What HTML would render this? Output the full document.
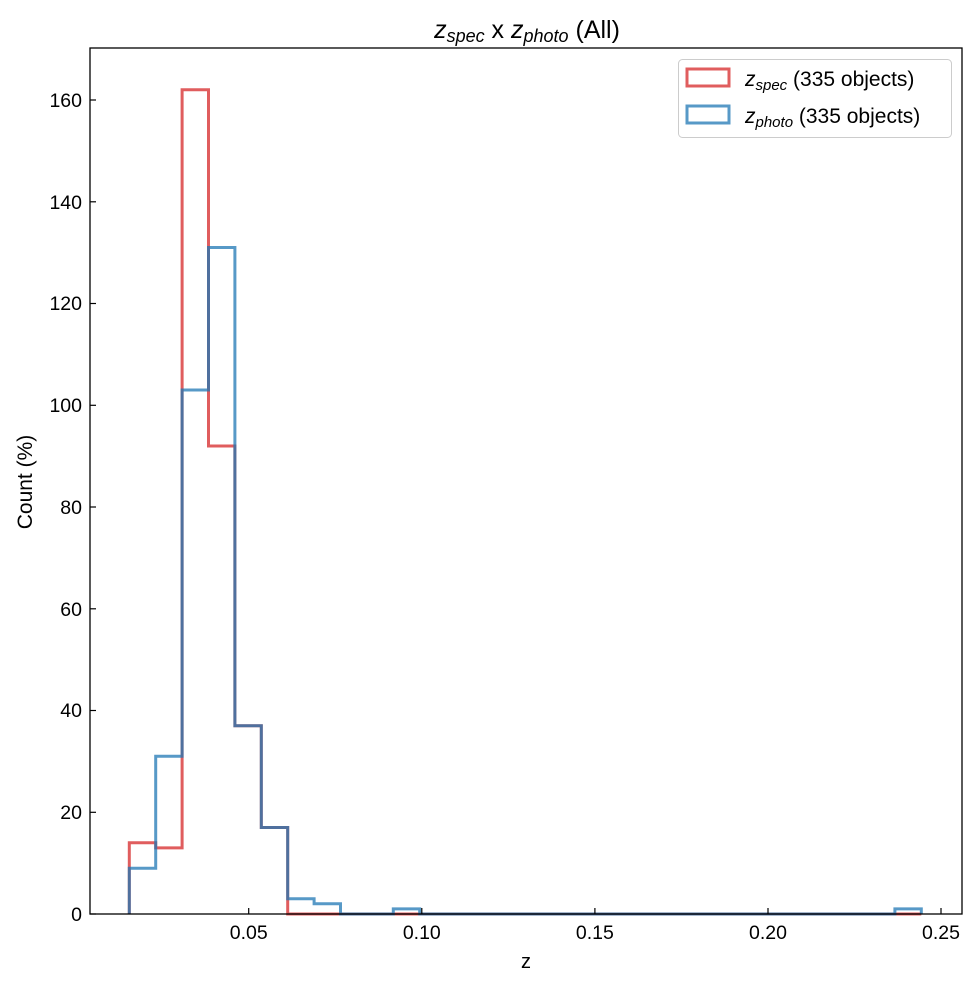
<!DOCTYPE html>
<html><head><style>body{margin:0;background:#fff}</style></head><body>
<svg width="979" height="985" xmlns="http://www.w3.org/2000/svg" font-family="Liberation Sans, DejaVu Sans, sans-serif">
<rect width="979" height="985" fill="#fff"/>
<g fill="none" stroke-width="3" stroke-linejoin="miter">
<path d="M129.3,914 V842.8 H155.7 V847.9 H182.1 V89.8 H208.5 V446 H234.9 V725.8 H261.3 V827.5 H287.7 V914 H921.3" stroke="#d62728" stroke-opacity="0.75"/>
<path d="M129.3,914 V868.2 H155.7 V756.3 H182.1 V390 H208.5 V247.5 H234.9 V725.8 H261.3 V827.5 H287.7 V898.7 H314.1 V903.8 H340.5 V914 H393.3 V908.9 H419.7 V914 H894.9 V908.9 H921.3 V914" stroke="#1f77b4" stroke-opacity="0.75"/>
</g>
<rect x="90" y="48" width="872" height="866" fill="none" stroke="#000" stroke-width="1.3"/>
<g stroke="#000" stroke-width="1.2">
<line x1="248.7" y1="914" x2="248.7" y2="908"/><line x1="421.8" y1="914" x2="421.8" y2="908"/><line x1="594.9" y1="914" x2="594.9" y2="908"/><line x1="768" y1="914" x2="768" y2="908"/><line x1="941" y1="914" x2="941" y2="908"/>
<line x1="90" y1="914" x2="96" y2="914"/><line x1="90" y1="812.3" x2="96" y2="812.3"/><line x1="90" y1="710.5" x2="96" y2="710.5"/><line x1="90" y1="608.8" x2="96" y2="608.8"/><line x1="90" y1="507" x2="96" y2="507"/><line x1="90" y1="405.3" x2="96" y2="405.3"/><line x1="90" y1="303.5" x2="96" y2="303.5"/><line x1="90" y1="201.8" x2="96" y2="201.8"/><line x1="90" y1="100" x2="96" y2="100"/>
</g>
<g font-size="19.5" fill="#000" text-anchor="middle">
<text x="248.7" y="939">0.05</text><text x="421.8" y="939">0.10</text><text x="594.9" y="939">0.15</text><text x="768" y="939">0.20</text><text x="941" y="939">0.25</text>
</g>
<g font-size="19.5" fill="#000" text-anchor="end">
<text x="82" y="921">0</text><text x="82" y="819">20</text><text x="82" y="717">40</text><text x="82" y="616">60</text><text x="82" y="514">80</text><text x="82" y="412">100</text><text x="82" y="310">120</text><text x="82" y="209">140</text><text x="82" y="107">160</text>
</g>
<text x="526" y="968" font-size="20" text-anchor="middle">z</text>
<text transform="translate(32,482) rotate(-90)" font-size="21" text-anchor="middle">Count (%)</text>
<text x="527" y="38" font-size="25" text-anchor="middle"><tspan font-style="italic">z</tspan><tspan font-style="italic" font-size="18" dy="4">spec</tspan><tspan dy="-4"> x </tspan><tspan font-style="italic">z</tspan><tspan font-style="italic" font-size="18" dy="4">photo</tspan><tspan dy="-4"> (All)</tspan></text>
<rect x="678.5" y="59.5" width="273" height="78" rx="4" fill="#fff" stroke="#ccc" stroke-width="1"/>
<rect x="687" y="69" width="42" height="17" fill="none" stroke="#d62728" stroke-opacity="0.75" stroke-width="3"/>
<rect x="687" y="106" width="42" height="17" fill="none" stroke="#1f77b4" stroke-opacity="0.75" stroke-width="3"/>
<text x="745" y="86" font-size="21"><tspan font-style="italic">z</tspan><tspan font-style="italic" font-size="15" dy="4">spec</tspan><tspan dy="-4"> (335 objects)</tspan></text>
<text x="745" y="123" font-size="21"><tspan font-style="italic">z</tspan><tspan font-style="italic" font-size="15" dy="4">photo</tspan><tspan dy="-4"> (335 objects)</tspan></text>
</svg>
</body></html>
